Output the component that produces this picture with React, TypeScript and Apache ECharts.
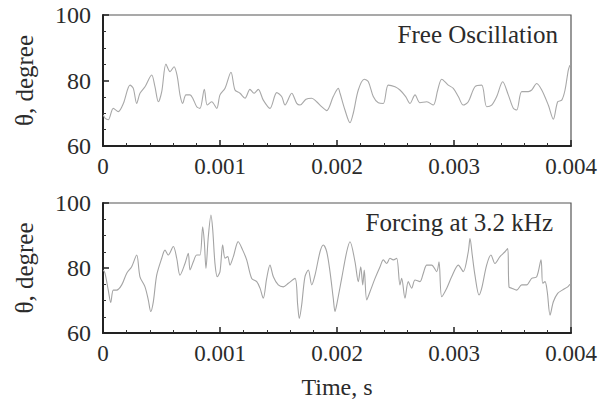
import React, { useEffect, useRef } from "react";
import * as echarts from "echarts";

// Time values in milliseconds (converted to seconds for the axis)
const freeTimeMs = [
  0.003, 0.017, 0.045, 0.088, 0.131, 0.174, 0.231, 0.259, 0.288, 0.316, 0.359, 0.416, 0.444, 0.473,
  0.502, 0.538, 0.573, 0.607, 0.635, 0.658, 0.681, 0.709, 0.744, 0.767, 0.801, 0.829, 0.866, 0.891,
  0.929, 0.972, 1.0, 1.043, 1.094, 1.128, 1.171, 1.214, 1.256, 1.291, 1.327, 1.37, 1.427, 1.485,
  1.527, 1.556, 1.613, 1.656, 1.684, 1.735, 1.784, 1.826, 1.869, 1.912, 1.968, 2.011, 2.026, 2.068,
  2.111, 2.139, 2.182, 2.233, 2.268, 2.31, 2.353, 2.396, 2.438, 2.496, 2.538, 2.587, 2.624, 2.667,
  2.709, 2.767, 2.823, 2.861, 2.895, 2.951, 2.994, 3.037, 3.079, 3.122, 3.179, 3.237, 3.279, 3.322,
  3.365, 3.416, 3.464, 3.507, 3.536, 3.579, 3.635, 3.664, 3.707, 3.75, 3.806, 3.849, 3.886, 3.921,
  3.949, 3.977, 3.991,
];
const freeTheta = [
  69.5, 68.5, 68, 71.5, 70.5, 73, 78.6, 77.6, 73, 76.1, 78.1, 81.7, 78.1, 73.5,
  76.6, 85, 82.7, 84.2, 81.2, 75.6, 73, 75.6, 75.6, 74.6, 72, 71.5, 77.3, 72.5,
  73.5, 71.5, 75.6, 77.6, 82.5, 77.1, 76.1, 74.6, 77.3, 76.1, 77.3, 74, 71.5, 76.3,
  75.1, 72.5, 76.1, 73, 72.5, 74.3, 74.6, 73.5, 72, 70.8, 75.1, 77.6, 76.1, 71,
  67.1, 70, 77.1, 80.4, 79.6, 75.1, 73.2, 73, 78.6, 78.1, 77.1, 75.1, 73, 75.6,
  73.2, 73.5, 72.5, 77.1, 80.4, 78.6, 77.6, 75.1, 72.5, 73.5, 78.1, 78.6, 72, 72.5,
  75.1, 79.6, 75.6, 71.5, 71, 76.6, 76.6, 77.1, 79.1, 77.1, 72.5, 68.2, 73.5, 74,
  77.1, 83.2, 84.7,
];

const forcedTimeMs = [
  0.003, 0.017, 0.045, 0.066, 0.088, 0.117, 0.16, 0.203, 0.245, 0.288, 0.316, 0.359, 0.387, 0.408,
  0.43, 0.459, 0.502, 0.53, 0.558, 0.601, 0.63, 0.658, 0.701, 0.729, 0.744, 0.772, 0.801, 0.829,
  0.852, 0.866, 0.88, 0.9, 0.923, 0.938, 0.957, 0.977, 1.0, 1.023, 1.043, 1.066, 1.085, 1.114,
  1.156, 1.194, 1.228, 1.271, 1.314, 1.342, 1.37, 1.399, 1.427, 1.456, 1.498, 1.541, 1.584, 1.641,
  1.664, 1.678, 1.698, 1.726, 1.755, 1.784, 1.812, 1.855, 1.883, 1.912, 1.94, 1.968, 1.983, 1.997,
  2.04, 2.083, 2.111, 2.154, 2.182, 2.203, 2.22, 2.233, 2.254, 2.282, 2.325, 2.368, 2.396, 2.425,
  2.453, 2.481, 2.51, 2.538, 2.553, 2.581, 2.609, 2.638, 2.667, 2.709, 2.738, 2.767, 2.809, 2.852,
  2.872, 2.895, 2.938, 2.98, 3.037, 3.079, 3.122, 3.137, 3.156, 3.179, 3.214, 3.237, 3.279, 3.316,
  3.35, 3.393, 3.436, 3.459, 3.47, 3.493, 3.536, 3.579, 3.621, 3.664, 3.707, 3.744, 3.758, 3.778,
  3.797, 3.821, 3.849, 3.886, 3.926, 3.972, 3.991,
];
const forcedTheta = [
  79.4, 78.4, 73.2, 69.4, 73.2, 73.2, 74.8, 78.4, 80.4, 84, 77.3, 74.2, 70.2, 66.6,
  69.6, 77.8, 83, 85.5, 84, 86.6, 83, 77.8, 81.4, 84.5, 79.4, 81.9, 84, 84,
  92.7, 88.1, 79.9, 89.6, 96.3, 91.7, 81.4, 77.3, 78.9, 87.1, 83, 83.5, 80.9, 83.5,
  88.1, 85.5, 82.5, 76.8, 75.8, 73.8, 70.7, 76.8, 80.9, 77.3, 74.8, 74.2, 75.3, 76.8,
  68.6, 64.5, 68.6, 77.3, 79.4, 74.8, 77.8, 85, 87.1, 85, 78.9, 70.7, 66.6, 68.6,
  76.8, 85, 88.1, 81.9, 75.8, 80.4, 74.8, 79.4, 70.2, 72.7, 76.8, 80.4, 82.5, 81.4,
  83, 82.5, 83, 74.8, 76.8, 70.7, 75.8, 73.8, 76.3, 75.8, 78.4, 80.9, 80.9, 78.9,
  81.9, 71.2, 73.8, 77.3, 80.9, 78.9, 85, 89.1, 84, 77.8, 71.7, 73.8, 80.9, 84,
  81.4, 83.5, 85, 86, 74.2, 73.8, 73.2, 74.8, 74.8, 76.8, 77.3, 82.5, 75.3, 75.8,
  72.7, 65.5, 69.6, 72.2, 73.2, 74.2, 75,
];

const panelTitles = ["Free Oscillation", "Forcing at 3.2 kHz"];
const xMin = 0;
const xMax = 0.004;
const xInterval = 0.001;
const yMin = 60;
const yMax = 100;
const yInterval = 20;

const FONT = "'Liberation Serif', 'Times New Roman', serif";
const TEXT = "#2b2b2b";

export default function App() {
  const ref = useRef<HTMLDivElement>(null);

  useEffect(() => {
    if (!ref.current) return;
    const chart = echarts.init(ref.current, null, { renderer: "svg" });

    const toData = (t: number[], v: number[]) => t.map((ms, i) => [ms / 1000, v[i]]);

    const grids = [
      { left: 103, top: 15, width: 468, height: 131 },
      { left: 103, top: 203, width: 468, height: 130 },
    ];

    const xAxisBase = (idx: number) => ({
      type: "value" as const,
      gridIndex: idx,
      min: xMin,
      max: xMax,
      interval: xInterval,
      axisLine: { show: true, lineStyle: { color: "#222", width: 2 } },
      axisTick: { show: true, inside: true, length: 6, lineStyle: { color: "#222", width: 1.5 } },
      minorTick: { show: true, splitNumber: 5, length: 3, lineStyle: { color: "#333", width: 1 } },
      splitLine: { show: false },
      axisLabel: {
        margin: 9,
        color: TEXT,
        fontFamily: FONT,
        fontSize: 23,
        formatter: (v: number) => (v === 0 ? "0" : v.toFixed(3)),
      },
    });

    const yAxisBase = (idx: number) => ({
      type: "value" as const,
      gridIndex: idx,
      min: yMin,
      max: yMax,
      interval: yInterval,
      name: "θ, degree",
      nameLocation: "middle" as const,
      nameRotate: 90,
      nameGap: 66,
      nameTextStyle: { color: TEXT, fontFamily: FONT, fontSize: 25 },
      axisLine: { show: true, lineStyle: { color: "#222", width: 2 } },
      axisTick: { show: true, inside: true, length: 6, lineStyle: { color: "#222", width: 1.5 } },
      minorTick: { show: true, splitNumber: 4, length: 3, lineStyle: { color: "#333", width: 1 } },
      splitLine: { show: false },
      axisLabel: { margin: 12, color: TEXT, fontFamily: FONT, fontSize: 24 },
    });

    chart.setOption({
      animation: false,
      backgroundColor: "#ffffff",
      grid: grids.map((g) => ({ ...g, show: true, borderColor: "#555", borderWidth: 1.2, backgroundColor: "transparent" })),
      xAxis: [
        xAxisBase(0),
        {
          ...xAxisBase(1),
          name: "Time, s",
          nameLocation: "middle",
          nameGap: 42,
          nameTextStyle: { color: TEXT, fontFamily: FONT, fontSize: 24 },
        },
      ],
      yAxis: [yAxisBase(0), yAxisBase(1)],
      series: [
        {
          type: "line",
          xAxisIndex: 0,
          yAxisIndex: 0,
          data: toData(freeTimeMs, freeTheta),
          showSymbol: false,
          symbol: "none",
          smooth: 0.3,
          lineStyle: { color: "#a8a8a8", width: 1.1 },
        },
        {
          type: "line",
          xAxisIndex: 1,
          yAxisIndex: 1,
          data: toData(forcedTimeMs, forcedTheta),
          showSymbol: false,
          symbol: "none",
          smooth: 0.3,
          lineStyle: { color: "#a4a4a4", width: 1.1 },
        },
      ],
      graphic: [
        {
          type: "text",
          right: 603 - 558,
          top: 22,
          style: { text: panelTitles[0], fill: TEXT, font: `25px ${FONT}` },
        },
        {
          type: "text",
          right: 603 - 553,
          top: 210,
          style: { text: panelTitles[1], fill: TEXT, font: `25px ${FONT}` },
        },
      ],
    });

    return () => chart.dispose();
  }, []);

  return (
    <div
      ref={ref}
      style={{ position: "fixed", left: 0, top: 0, width: 603, height: 401, background: "#fff" }}
    />
  );
}
